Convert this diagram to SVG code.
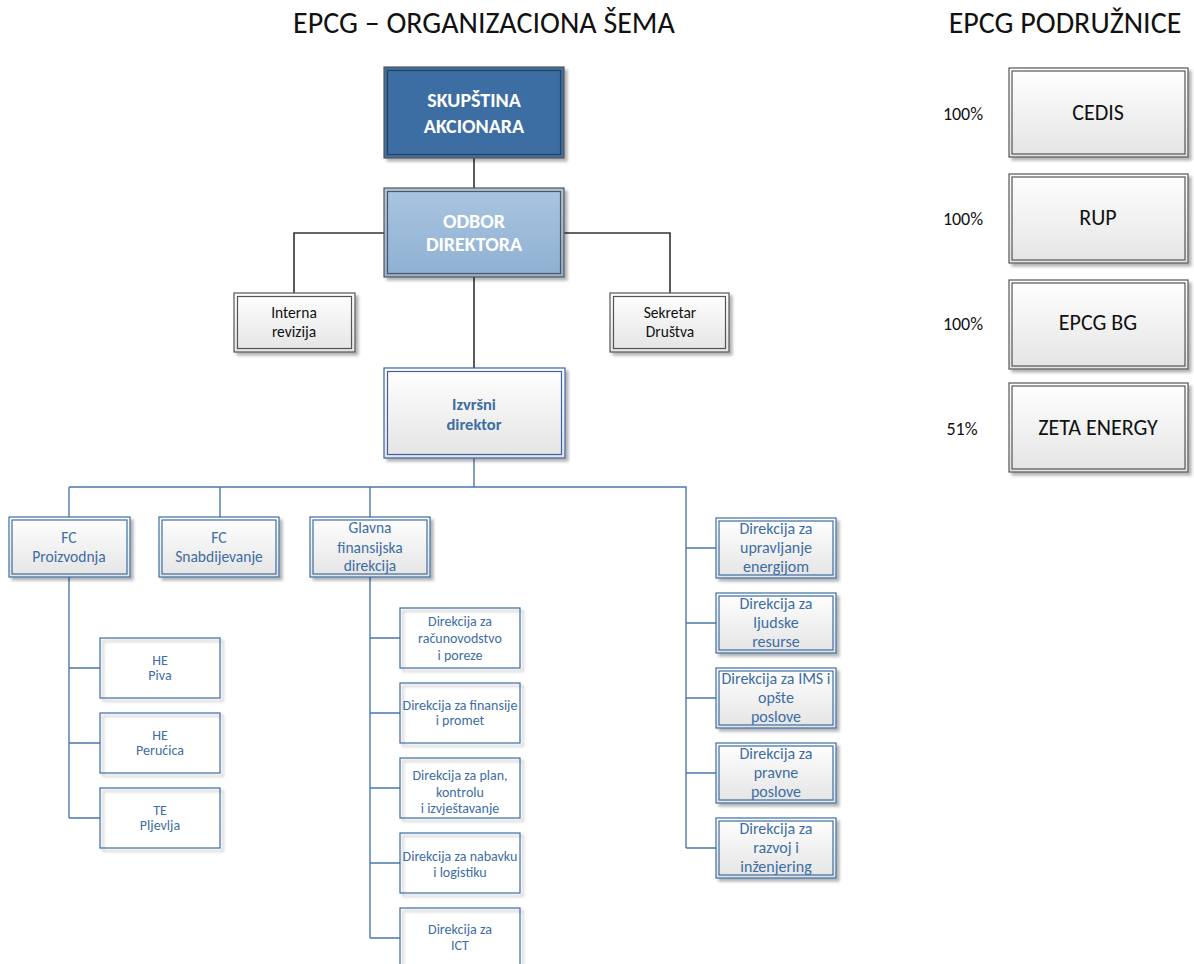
<svg xmlns="http://www.w3.org/2000/svg" width="1194" height="964" viewBox="0 0 1194 964">
<defs>
<linearGradient id="gw" x1="0" y1="0" x2="0" y2="1"><stop offset="0" stop-color="#ffffff"/><stop offset="1" stop-color="#e4e4e4"/></linearGradient>
<linearGradient id="gb" x1="0" y1="0" x2="0" y2="1"><stop offset="0" stop-color="#a9c5e0"/><stop offset="1" stop-color="#8fb0d2"/></linearGradient>
<filter id="sh" x="-10%" y="-10%" width="130%" height="130%"><feGaussianBlur in="SourceAlpha" stdDeviation="1.5"/><feOffset dx="3" dy="3"/><feComponentTransfer><feFuncA type="linear" slope="0.3"/></feComponentTransfer><feMerge><feMergeNode/><feMergeNode in="SourceGraphic"/></feMerge></filter>
</defs>
<style>
text{font-family:"Carlito","Lato","Liberation Sans",sans-serif;text-anchor:middle}
.t{font-size:30px;fill:#111}
.w{font-size:20px;font-weight:bold;fill:#fff}
.k{font-size:15.5px;fill:#111}
.b{font-size:14px;fill:#3e6da3}
.bf{font-size:15.5px;fill:#3e6da3}
.br{font-size:16px;fill:#3e6da3}
.bb{font-size:16.5px;font-weight:bold;fill:#3e6da3}
.r{font-size:22px;fill:#111}
.p{font-size:18px;fill:#111}
.box{fill:url(#gw)}
.ob{fill:none;stroke:#3e6da3;stroke-width:1.2}
.od{fill:none;stroke:#555;stroke-width:1.2}
.ld{stroke:#333;stroke-width:1.6;fill:none}
.lb{stroke:#4a78ad;stroke-width:1.4;fill:none}
</style>
<text class="t" x="484" y="33">EPCG – ORGANIZACIONA ŠEMA</text>
<text class="t" x="1065" y="33">EPCG PODRUŽNICE</text>
<g id="connectors">
<path class="ld" d="M474 158V188M384 233H294V293M564 233H670V293M474 277V368"/>
<path class="lb" d="M474 458V487M69 487H686V848M69 487V517M220 487V517M370 487V517"/>
<path class="lb" d="M69 577V818M69 668H100M69 743H100M69 818H100"/>
<path class="lb" d="M370 577V938M370 638H400M370 713H400M370 788H400M370 863H400M370 938H400"/>
<path class="lb" d="M686 548H716M686 623H716M686 698H716M686 773H716M686 848H716"/>
</g>
<g id="skupstina"><rect x="384" y="67" width="180" height="91" fill="#3c6ea3" stroke="#555" stroke-width="1.2" filter="url(#sh)"/><rect x="387.5" y="70.5" width="173" height="84" fill="none" stroke="#2a3f55" stroke-width="1.2"/><text class="w" x="474" y="107">SKUPŠTINA</text><text class="w" x="474" y="133">AKCIONARA</text></g>
<g id="odbor"><rect x="384" y="188" width="180" height="89" fill="url(#gb)" stroke="#555" stroke-width="1.2" filter="url(#sh)"/><rect x="387.5" y="191.5" width="173" height="82" fill="none" stroke="#555" stroke-width="1.2"/><text class="w" x="474" y="228">ODBOR</text><text class="w" x="474" y="251">DIREKTORA</text></g>
<g id="interna"><rect class="box" x="234" y="293" width="121" height="59" stroke="#555" stroke-width="1.2" filter="url(#sh)"/><rect class="od" x="237.5" y="296.5" width="114" height="52"/><text class="k" x="294" y="318">Interna</text><text class="k" x="294" y="337">revizija</text></g>
<g id="sekretar"><rect class="box" x="610" y="293" width="119" height="59" stroke="#555" stroke-width="1.2" filter="url(#sh)"/><rect class="od" x="613.5" y="296.5" width="112" height="52"/><text class="k" x="670" y="318">Sekretar</text><text class="k" x="670" y="337">Društva</text></g>
<g id="izvrsni"><rect class="box" x="384" y="368" width="181" height="90" stroke="#3e5fa3" stroke-width="1.2" filter="url(#sh)"/><rect x="387.5" y="371.5" width="174" height="83" fill="none" stroke="#3e5fa3" stroke-width="1.2"/><text class="bb" x="474" y="410">Izvršni</text><text class="bb" x="474" y="430">direktor</text></g>
<g id="fcp"><rect class="box" x="9" y="517" width="121" height="60" stroke="#3e6da3" stroke-width="1.2" filter="url(#sh)"/><rect class="ob" x="12" y="520" width="115" height="54"/><text class="bf" x="69" y="543">FC</text><text class="bf" x="69" y="562">Proizvodnja</text></g>
<g id="fcs"><rect class="box" x="159" y="517" width="120" height="60" stroke="#3e6da3" stroke-width="1.2" filter="url(#sh)"/><rect class="ob" x="162" y="520" width="114" height="54"/><text class="bf" x="219" y="543">FC</text><text class="bf" x="219" y="562">Snabdijevanje</text></g>
<g id="gfd"><rect class="box" x="310" y="517" width="120" height="60" stroke="#3e6da3" stroke-width="1.2" filter="url(#sh)"/><rect class="ob" x="313" y="520" width="114" height="54"/><text class="bf" x="370" y="533">Glavna</text><text class="bf" x="370" y="553">finansijska</text><text class="bf" x="370" y="571">direkcija</text></g>
<g id="hepiva"><rect class="box ob" x="100" y="638" width="120" height="60" filter="url(#sh)"/><text class="b" x="160" y="665">HE</text><text class="b" x="160" y="680">Piva</text></g>
<g id="heperucica"><rect class="box ob" x="100" y="713" width="120" height="60" filter="url(#sh)"/><text class="b" x="160" y="740">HE</text><text class="b" x="160" y="755">Perućica</text></g>
<g id="tepljevlja"><rect class="box ob" x="100" y="788" width="120" height="60" filter="url(#sh)"/><text class="b" x="160" y="815">TE</text><text class="b" x="160" y="830">Pljevlja</text></g>
<g id="d1"><rect class="box ob" x="400" y="608" width="120" height="60" filter="url(#sh)"/><text class="b" x="460" y="626">Direkcija za</text><text class="b" x="460" y="643">računovodstvo</text><text class="b" x="460" y="660">i poreze</text></g>
<g id="d2"><rect class="box ob" x="400" y="683" width="120" height="60" filter="url(#sh)"/><text class="b" x="460" y="710">Direkcija za finansije</text><text class="b" x="460" y="725">i promet</text></g>
<g id="d3"><rect class="box ob" x="400" y="758" width="120" height="60" filter="url(#sh)"/><text class="b" x="460" y="780">Direkcija za plan,</text><text class="b" x="460" y="797">kontrolu</text><text class="b" x="460" y="813">i izvještavanje</text></g>
<g id="d4"><rect class="box ob" x="400" y="833" width="120" height="60" filter="url(#sh)"/><text class="b" x="460" y="861">Direkcija za nabavku</text><text class="b" x="460" y="877">i logistiku</text></g>
<g id="d5"><rect class="box ob" x="400" y="908" width="120" height="60" filter="url(#sh)"/><text class="b" x="460" y="934">Direkcija za</text><text class="b" x="460" y="950">ICT</text></g>
<g id="r1"><rect class="box" x="716" y="518" width="120" height="60" stroke="#3e6da3" stroke-width="1.2" filter="url(#sh)"/><rect class="ob" x="719" y="521" width="114" height="54"/><text class="br" x="776" y="534">Direkcija za</text><text class="br" x="776" y="553">upravljanje</text><text class="br" x="776" y="572">energijom</text></g>
<g id="r2"><rect class="box" x="716" y="593" width="120" height="60" stroke="#3e6da3" stroke-width="1.2" filter="url(#sh)"/><rect class="ob" x="719" y="596" width="114" height="54"/><text class="br" x="776" y="609">Direkcija za</text><text class="br" x="776" y="628">ljudske</text><text class="br" x="776" y="647">resurse</text></g>
<g id="r3"><rect class="box" x="716" y="668" width="120" height="60" stroke="#3e6da3" stroke-width="1.2" filter="url(#sh)"/><rect class="ob" x="719" y="671" width="114" height="54"/><text class="br" x="776" y="684">Direkcija za IMS i</text><text class="br" x="776" y="703">opšte</text><text class="br" x="776" y="722">poslove</text></g>
<g id="r4"><rect class="box" x="716" y="743" width="120" height="60" stroke="#3e6da3" stroke-width="1.2" filter="url(#sh)"/><rect class="ob" x="719" y="746" width="114" height="54"/><text class="br" x="776" y="759">Direkcija za</text><text class="br" x="776" y="778">pravne</text><text class="br" x="776" y="797">poslove</text></g>
<g id="r5"><rect class="box" x="716" y="818" width="120" height="60" stroke="#3e6da3" stroke-width="1.2" filter="url(#sh)"/><rect class="ob" x="719" y="821" width="114" height="54"/><text class="br" x="776" y="834">Direkcija za</text><text class="br" x="776" y="853">razvoj i</text><text class="br" x="776" y="872">inženjering</text></g>
<g id="cedis"><rect class="box" x="1009" y="68" width="179" height="89" stroke="#555" stroke-width="1.2" filter="url(#sh)"/><rect class="od" x="1012" y="71" width="173" height="83"/><text class="r" x="1098" y="120">CEDIS</text><text class="p" x="963" y="120">100%</text></g>
<g id="rup"><rect class="box" x="1009" y="174" width="179" height="89" stroke="#555" stroke-width="1.2" filter="url(#sh)"/><rect class="od" x="1012" y="177" width="173" height="83"/><text class="r" x="1098" y="225">RUP</text><text class="p" x="963" y="225">100%</text></g>
<g id="epcgbg"><rect class="box" x="1009" y="280" width="179" height="89" stroke="#555" stroke-width="1.2" filter="url(#sh)"/><rect class="od" x="1012" y="283" width="173" height="83"/><text class="r" x="1098" y="330">EPCG BG</text><text class="p" x="963" y="330">100%</text></g>
<g id="zeta"><rect class="box" x="1009" y="383" width="179" height="89" stroke="#555" stroke-width="1.2" filter="url(#sh)"/><rect class="od" x="1012" y="386" width="173" height="83"/><text class="r" x="1098" y="435">ZETA ENERGY</text><text class="p" x="962" y="435">51%</text></g>
</svg>
